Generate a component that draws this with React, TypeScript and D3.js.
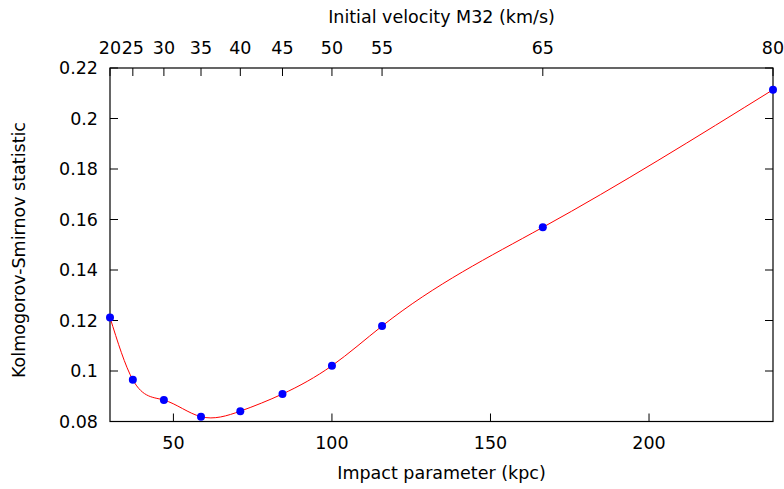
import React from 'react';
import * as d3 from 'd3';

// Data
const velocities = [20, 25, 30, 35, 40, 45, 50, 55, 65, 80];
const impactParams = [30, 37.2, 47.0, 58.7, 71.1, 84.4, 100, 115.8, 166.5, 239.1];
const ksValues = [0.1212, 0.0965, 0.0885, 0.0819, 0.0841, 0.0909, 0.1021, 0.1178, 0.1569, 0.2114];
const bottomTicks = [50, 100, 150, 200];
const yTicks = [0.08, 0.1, 0.12, 0.14, 0.16, 0.18, 0.2, 0.22];

const W = 784;
const H = 489;
const M = { left: 110, right: 773, top: 68, bottom: 421.5 };
const FONT = "'DejaVu Sans', sans-serif";
const FS = 17.5;
const TICK = 8;

// Custom d3 curve: natural cubic spline of y as a function of x (like gnuplot "smooth csplines")
function curveCSpline(context: any) {
  let xs: number[] = [];
  let ys: number[] = [];
  let lineState = NaN;
  return {
    areaStart() { lineState = 0; },
    areaEnd() { lineState = NaN; },
    lineStart() { xs = []; ys = []; },
    lineEnd() {
      const n = xs.length;
      if (n === 0) return;
      context.moveTo(xs[0], ys[0]);
      if (n === 1) return;
      if (n === 2) { context.lineTo(xs[1], ys[1]); return; }
      const h: number[] = [];
      for (let i = 0; i < n - 1; i++) h.push(xs[i + 1] - xs[i]);
      // Solve for second derivatives Mv (natural: M0 = Mn-1 = 0)
      const Mv = new Array(n).fill(0);
      const a: number[] = [], b: number[] = [], c: number[] = [], r: number[] = [];
      for (let i = 1; i < n - 1; i++) {
        a.push(h[i - 1]);
        b.push(2 * (h[i - 1] + h[i]));
        c.push(h[i]);
        r.push(6 * ((ys[i + 1] - ys[i]) / h[i] - (ys[i] - ys[i - 1]) / h[i - 1]));
      }
      const m = b.length;
      for (let i = 1; i < m; i++) {
        const w = a[i] / b[i - 1];
        b[i] -= w * c[i - 1];
        r[i] -= w * r[i - 1];
      }
      const sol = new Array(m).fill(0);
      sol[m - 1] = r[m - 1] / b[m - 1];
      for (let i = m - 2; i >= 0; i--) sol[i] = (r[i] - c[i] * sol[i + 1]) / b[i];
      for (let i = 0; i < m; i++) Mv[i + 1] = sol[i];
      for (let i = 0; i < n - 1; i++) {
        const hi = h[i];
        const s = (ys[i + 1] - ys[i]) / hi;
        const m0 = s - (hi * (2 * Mv[i] + Mv[i + 1])) / 6;
        const m1 = s + (hi * (Mv[i] + 2 * Mv[i + 1])) / 6;
        context.bezierCurveTo(
          xs[i] + hi / 3, ys[i] + (m0 * hi) / 3,
          xs[i + 1] - hi / 3, ys[i + 1] - (m1 * hi) / 3,
          xs[i + 1], ys[i + 1]
        );
      }
    },
    point(px: number, py: number) { xs.push(+px); ys.push(+py); },
  };
}

export default function App() {
  const x = d3.scaleLinear().domain([30, 239.1]).range([M.left, M.right]);
  const y = d3.scaleLinear().domain([0.08, 0.22]).range([M.bottom, M.top]);
  const vToB = d3.scaleLinear().domain(velocities).range(impactParams);

  const pts = impactParams.map((b, i) => ({ b, k: ksValues[i], v: velocities[i] }));
  const line = d3
    .line<{ b: number; k: number }>()
    .x((d) => x(d.b))
    .y((d) => y(d.k))
    .curve(curveCSpline as any);

  const fmt = (v: number) => String(+v.toFixed(2));

  return (
    <svg
      width={W}
      height={H}
      style={{ position: 'absolute', left: 0, top: 0, background: '#fff' }}
      fontFamily={FONT}
      fontSize={FS}
    >
      <rect x={0} y={0} width={W} height={H} fill="#fff" />
      {yTicks.map((t) => (
        <g key={'y' + t}>
          <line x1={M.left} x2={M.left + TICK} y1={y(t)} y2={y(t)} stroke="#000" />
          <line x1={M.right} x2={M.right - TICK} y1={y(t)} y2={y(t)} stroke="#000" />
          <text x={98} y={y(t)} dy="0.36em" textAnchor="end" fill="#000">
            {fmt(t)}
          </text>
        </g>
      ))}
      {bottomTicks.map((t) => (
        <g key={'b' + t}>
          <line x1={x(t)} x2={x(t)} y1={M.bottom} y2={M.bottom - TICK} stroke="#000" />
          <text x={x(t)} y={448.5} textAnchor="middle" fill="#000">
            {t}
          </text>
        </g>
      ))}
      {velocities.map((v) => (
        <g key={'v' + v}>
          <line x1={x(vToB(v))} x2={x(vToB(v))} y1={M.top} y2={M.top + TICK} stroke="#000" />
          <text x={x(vToB(v))} y={53.5} textAnchor="middle" fill="#000">
            {v}
          </text>
        </g>
      ))}
      <rect
        x={M.left}
        y={M.top}
        width={M.right - M.left}
        height={M.bottom - M.top}
        fill="none"
        stroke="#000"
        strokeWidth={1.2}
      />
      <path d={line(pts) || ''} fill="none" stroke="#ff0000" strokeWidth={1} />
      {pts.map((p, i) => (
        <circle key={i} cx={x(p.b)} cy={y(p.k)} r={4} fill="#0000ff" />
      ))}
      <text x={(M.left + M.right) / 2} y={22.5} textAnchor="middle" fill="#000">
        Initial velocity M32 (km/s)
      </text>
      <text x={(M.left + M.right) / 2} y={479} textAnchor="middle" fill="#000">
        Impact parameter (kpc)
      </text>
      <text transform={`translate(25,250) rotate(-90)`} textAnchor="middle" fill="#000">
        Kolmogorov-Smirnov statistic
      </text>
    </svg>
  );
}
